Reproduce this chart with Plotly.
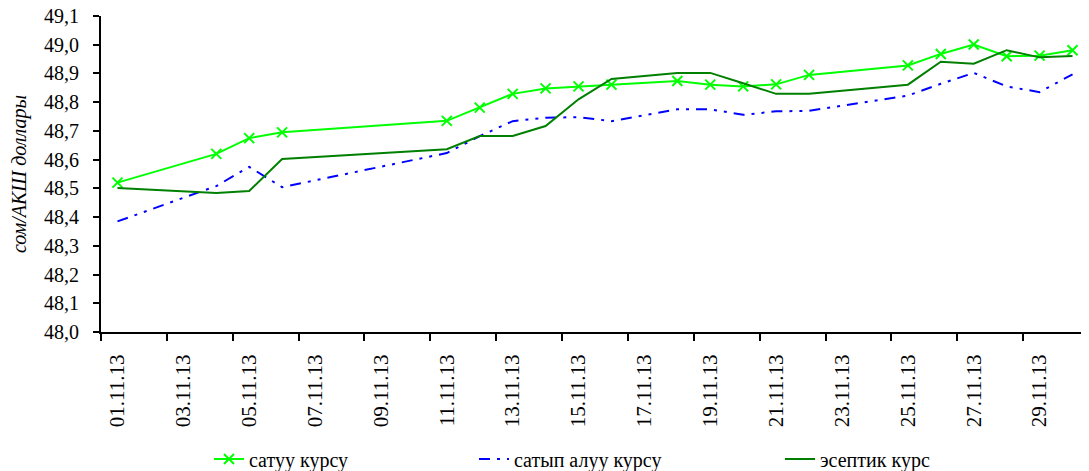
import pandas as pd
import plotly.graph_objects as go

# ---- data ----
dates = ["01.11.13", "04.11.13", "05.11.13", "06.11.13", "11.11.13", "12.11.13",
         "13.11.13", "14.11.13", "15.11.13", "16.11.13", "18.11.13", "19.11.13",
         "20.11.13", "21.11.13", "22.11.13", "25.11.13", "26.11.13", "27.11.13",
         "28.11.13", "29.11.13", "30.11.13"]
sell = [48.520, 48.620, 48.675, 48.695, 48.735, 48.781, 48.829, 48.848, 48.855,
        48.861, 48.874, 48.861, 48.855, 48.862, 48.895, 48.928, 48.968, 49.001,
        48.960, 48.962, 48.981]
buy = [48.385, 48.508, 48.575, 48.504, 48.623, 48.682, 48.734, 48.746, 48.748,
       48.734, 48.775, 48.775, 48.756, 48.768, 48.770, 48.823, 48.864, 48.902,
       48.855, 48.835, 48.897]
official = [48.501, 48.484, 48.491, 48.602, 48.636, 48.682, 48.682, 48.717, 48.810,
            48.881, 48.902, 48.902, 48.866, 48.829, 48.829, 48.861, 48.941, 48.934,
            48.981, 48.956, 48.961]
series_names = ["сатуу курсу", "сатып алуу курсу", "эсептик курс"]
tick_labels = ["01.11.13", "03.11.13", "05.11.13", "07.11.13", "09.11.13",
               "11.11.13", "13.11.13", "15.11.13", "17.11.13", "19.11.13",
               "21.11.13", "23.11.13", "25.11.13", "27.11.13", "29.11.13"]
y_title = "сом/АКШ доллары"

x = pd.to_datetime(dates, format="%d.%m.%y")
tick_pos = pd.to_datetime(tick_labels, format="%d.%m.%y")
boundary_pos = tick_pos - pd.Timedelta(hours=12)

FONT = "Liberation Serif, Times New Roman, DejaVu Serif, serif"

fig = go.Figure()
fig.add_trace(go.Scatter(
    x=x, y=sell, name=series_names[0], mode="lines+markers",
    line=dict(color="#00FF00", width=2),
    marker=dict(symbol="x-thin", size=10, line=dict(color="#00FF00", width=2)),
    legend="legend"))
fig.add_trace(go.Scatter(
    x=x, y=buy, name=series_names[1], mode="lines",
    line=dict(color="#0000FF", width=2, dash="11px,7px,3px,7px,3px,7px"),
    legend="legend2"))
fig.add_trace(go.Scatter(
    x=x, y=official, name=series_names[2], mode="lines",
    line=dict(color="#008000", width=2),
    legend="legend3"))

# page body has an 8px margin, so the figure is drawn 8px smaller and offset
L, R, T, B = 93, 0, 8, 139
W, H = 1081, 463
pw = W - L - R
ph = H - T - B


def px_x(p):
    return (p - L) / pw


def px_y(p):
    return (H - B - p) / ph


leg_common = dict(orientation="h", xanchor="left", yanchor="middle",
                  bgcolor="rgba(0,0,0,0)", font=dict(family=FONT, size=20, color="black"))

fig.update_layout(
    width=W, height=H,
    margin=dict(l=L, r=R, t=T, b=B, autoexpand=False),
    paper_bgcolor="white", plot_bgcolor="white",
    separators=",.",
    font=dict(family=FONT, size=20, color="black"),
    showlegend=True,
    legend=dict(x=px_x(201), y=px_y(451), **leg_common),
    legend2=dict(x=px_x(466), y=px_y(451), **leg_common),
    legend3=dict(x=px_x(772), y=px_y(451), **leg_common),
    xaxis=dict(
        type="date", automargin=False,
        range=[pd.Timestamp("2013-10-31 12:00"), pd.Timestamp("2013-11-30 12:00")],
        tickmode="array", tickvals=tick_pos, ticktext=tick_labels,
        tickangle=-90, ticks="", ticklabelstandoff=12, ticklabeloverflow="allow",
        tickfont=dict(family=FONT, size=21, color="black"),
        minor=dict(tickmode="array", tickvals=boundary_pos, ticks="outside",
                   ticklen=7, tickwidth=2, tickcolor="black"),
        showline=True, linecolor="black", linewidth=2,
        showgrid=False, zeroline=False, fixedrange=True),
    yaxis=dict(
        range=[48.0, 49.1], tickmode="linear", tick0=48.0, dtick=0.1,
        automargin=False, ticklabeloverflow="allow",
        tickformat=".1f", ticks="outside", ticklen=6, tickwidth=2, tickcolor="black",
        ticklabelstandoff=10,
        tickfont=dict(family=FONT, size=20, color="black"),
        showline=True, linecolor="black", linewidth=2,
        showgrid=False, zeroline=False,
        title=dict(text="<i>" + y_title + "</i>", standoff=12,
                   font=dict(family=FONT, size=20, color="black"))),
)

fig.write_html("out.html")
